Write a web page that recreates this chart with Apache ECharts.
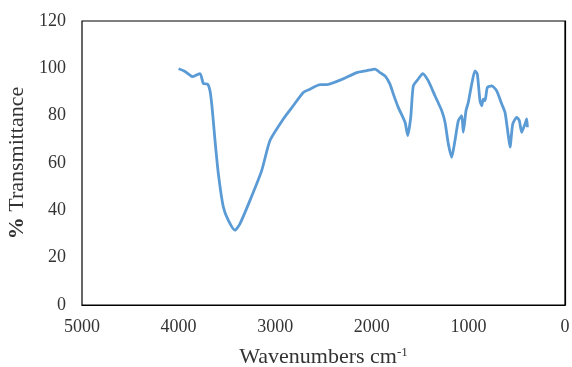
<!DOCTYPE html>
<html>
<head>
<meta charset="utf-8">
<script src="https://cdn.jsdelivr.net/npm/echarts@6/dist/echarts.min.js"></script>
<style>
  html, body { margin: 0; padding: 0; background: #fff; }
  #chart { width: 572px; height: 367px; }
</style>
</head>
<body>
<div id="chart"></div>
<script>
// wavenumber (cm-1) and % transmittance
var wavenumbers = [4000, 3934, 3854, 3778, 3744, 3699, 3675, 3657, 3641, 3623, 3589, 3537, 3485, 3416, 3364, 3261, 3140, 3054, 2916, 2813, 2709, 2640, 2536, 2467, 2329, 2156, 2053, 1967, 1915, 1863, 1812, 1777, 1726, 1656, 1628, 1597, 1570, 1519, 1473, 1415, 1346, 1276, 1242, 1208, 1173, 1139, 1104, 1069, 1053, 1025, 1001, 966, 932, 908, 880, 862, 846, 828, 804, 759, 707, 655, 621, 587, 569, 541, 500, 473, 448, 414, 396, 389];
var transmittance = [99.8, 98.7, 96.5, 97.8, 93.6, 93.3, 90.5, 84.9, 77.9, 69.5, 55.6, 41.4, 35.8, 31.6, 34.4, 44.2, 56.8, 69.5, 78.6, 84.2, 89.8, 91.2, 93.1, 93.1, 95.0, 98.2, 99.0, 99.7, 98.2, 96.8, 93.3, 89.1, 83.5, 77.2, 71.6, 79.3, 92.6, 95.5, 97.8, 94.7, 88.4, 82.1, 77.2, 68.1, 62.4, 69.5, 77.9, 80.0, 73.0, 82.1, 85.6, 93.3, 98.9, 97.6, 86.3, 84.2, 87.0, 86.3, 91.9, 92.6, 90.5, 84.9, 81.4, 71.6, 66.7, 76.5, 79.3, 77.9, 73.0, 76.5, 78.6, 75.1];

var xTicks = { min: 0, max: 5000, interval: 1000 };
var yTicks = { min: 0, max: 120, interval: 20 };

var pts = [];
for (var i = 0; i < wavenumbers.length; i++) {
	pts.push([wavenumbers[i], transmittance[i]]);
}

var font = 'Liberation Serif';
var txt = '#333';
function plain(v) { return String(v); }

var chart = echarts.init(document.getElementById('chart'), null, { renderer: 'canvas' });
var option = {
	animation: false,
	grid: {
		left: 82,
		top: 21,
		right: 7,
		bottom: 62,
		outerBoundsMode: 'none',
		containLabel: false,
		show: true,
		borderColor: '#000',
		borderWidth: 1.2,
		backgroundColor: '#fff'
	},
	xAxis: {
		type: 'value',
		inverse: true,
		min: xTicks.min,
		max: xTicks.max,
		interval: xTicks.interval,
		splitLine: { show: false },
		axisTick: { show: false },
		axisLine: { show: true, lineStyle: { color: '#000', width: 1.2 } },
		axisLabel: { color: txt, fontFamily: font, fontSize: 18, margin: 13, formatter: plain },
		name: 'Wavenumbers cm{sup|-1}',
		nameLocation: 'middle',
		nameGap: 41,
		nameTextStyle: {
			color: txt, fontFamily: font, fontSize: 22,
			rich: { sup: { fontFamily: font, fontSize: 13, color: txt, verticalAlign: 'top', padding: [0, 0, 10, 0] } }
		}
	},
	yAxis: {
		type: 'value',
		min: yTicks.min,
		max: yTicks.max,
		interval: yTicks.interval,
		splitLine: { show: false },
		axisTick: { show: false },
		axisLine: { show: true, lineStyle: { color: '#000', width: 1.2 } },
		axisLabel: { color: txt, fontFamily: font, fontSize: 18, margin: 16, formatter: plain },
		name: '{b|%} Transmittance',
		nameLocation: 'middle',
		nameGap: 51,
		nameTextStyle: {
			color: txt, fontFamily: font, fontSize: 22,
			rich: { b: { fontFamily: font, fontSize: 22, fontWeight: 'bold', color: txt } }
		}
	},
	series: [
		{
			type: 'line',
			data: pts,
			showSymbol: false,
			smooth: 0.2,
			lineStyle: { color: '#5B9BD5', width: 2.8 }
		}
	]
};
chart.setOption(option);
</script>
</body>
</html>
